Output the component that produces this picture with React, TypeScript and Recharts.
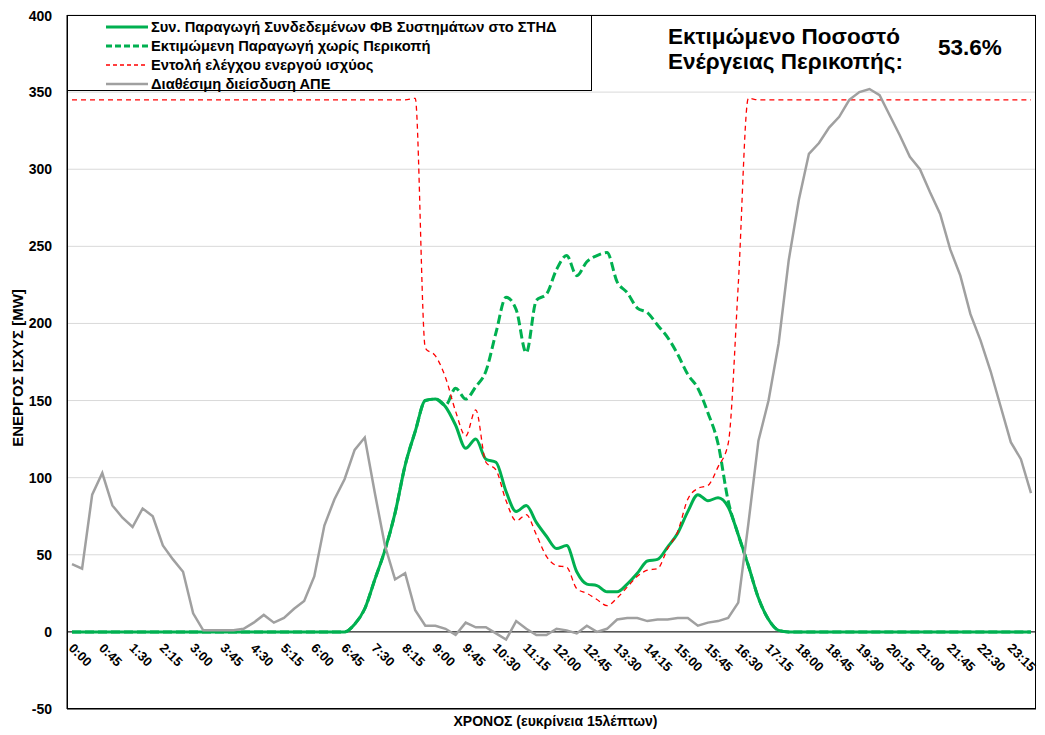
import { LineChart, Line, XAxis, YAxis, CartesianGrid, ReferenceLine, Legend } from "recharts";

// 15-minute slots over one day
const times: string[] = Array.from(
  { length: 96 },
  (_, i) => `${Math.floor(i / 4)}:${String((i % 4) * 15).padStart(2, "0")}`
);

const yTicks = [-50, 0, 50, 100, 150, 200, 250, 300, 350, 400];

// Συν. Παραγωγή Συνδεδεμένων ΦΒ Συστημάτων στο ΣΤΗΔ
const actualPv = [
  0, 0, 0, 0, 0, 0, 0, 0, 0, 0, 0, 0, 0, 0, 0, 0, 0, 0, 0, 0, 0, 0, 0, 0, 0, 0, 0, 0,
  5, 15, 34, 53, 77, 108, 130, 150, 151, 146, 134, 119, 125, 112, 110, 91, 78, 82, 71, 62,
  54, 56, 39, 31, 30, 26, 26, 31, 38, 46, 47, 55, 64, 78, 89, 85, 87, 81, 63, 43, 22, 8, 1,
  0, 0, 0, 0, 0, 0, 0, 0, 0, 0, 0, 0, 0, 0, 0, 0, 0, 0, 0, 0, 0, 0, 0, 0, 0,
];

// Εκτιμώμενη Παραγωγή χωρίς Περικοπή
const estimatedPv = [
  0, 0, 0, 0, 0, 0, 0, 0, 0, 0, 0, 0, 0, 0, 0, 0, 0, 0, 0, 0, 0, 0, 0, 0, 0, 0, 0, 0,
  5, 15, 34, 53, 77, 108, 130, 150, 151,
  147, 158, 151, 159, 169, 194, 217, 209, 181, 215, 219, 235, 244, 231, 240, 244, 246,
  227, 220, 210, 207, 199, 191, 180, 167, 158, 142, 122, 85,
  63, 43, 22, 8, 1,
  0, 0, 0, 0, 0, 0, 0, 0, 0, 0, 0, 0, 0, 0, 0, 0, 0, 0, 0, 0, 0, 0, 0, 0, 0,
];

// Εντολή ελέγχου ενεργού ισχύος
const controlSetpoint = [
  345, 345, 345, 345, 345, 345, 345, 345, 345, 345, 345, 345, 345, 345, 345, 345, 345,
  345, 345, 345, 345, 345, 345, 345, 345, 345, 345, 345, 345, 345, 345, 345, 345, 345,
  346, 184, 179, 165, 143, 127, 144, 110, 105, 85, 72, 76, 63, 49, 43, 42, 28, 25, 21, 17,
  22, 29, 36, 40, 41, 54, 65, 86, 93, 95, 107, 122, 225, 346,
  345, 345, 345, 345, 345, 345, 345, 345, 345, 345, 345, 345, 345, 345, 345, 345, 345,
  345, 345, 345, 345, 345, 345, 345, 345, 345, 345, 345,
];

// Διαθέσιμη διείσδυση ΑΠΕ
const resPenetration = [
  44, 41, 89, 103, 82, 74, 68, 80, 75, 56, 47, 39, 12, 1, 1, 1, 1, 2, 6, 11, 6, 9, 15, 20,
  36, 69, 86, 99, 118, 126, 90, 56, 34, 38, 14, 4, 4, 2, -2, 6, 3, 3, -1, -5, 7, 2, -2, -2,
  2, 1, -1, 4, 0, 2, 8, 9, 9, 7, 8, 8, 9, 9, 4, 6, 7, 9, 19, 70, 124, 150, 187, 241, 280,
  310, 317, 327, 334, 345, 350, 352, 348, 335, 322, 308, 300, 285, 271, 248, 231, 206,
  189, 169, 146, 123, 112, 90,
];

const data = times.map((time, i) => ({
  time,
  actual: actualPv[i],
  estimated: estimatedPv[i],
  setpoint: controlSetpoint[i],
  penetration: resPenetration[i],
}));

const GREEN = "#00b050";
const RED = "#ff0000";
const GREY = "#a0a0a0";
const FONT = "Arial, 'Liberation Sans', sans-serif";

// the root is as wide as the body (window minus 2 x 8px margin)
const WIDTH = 1029;
const HEIGHT = 727;
const TOP = 7;
const RIGHT = 1;
const Y_AXIS_W = 59;
const X_AXIS_H = 26;
const PLOT_W = WIDTH - Y_AXIS_W - RIGHT;
const PLOT_H = HEIGHT - TOP - X_AXIS_H;
const Y_MIN = -50;
const Y_MAX = 400;
// distance from the bottom of the plot up to the 0 line
const ZERO_SHIFT = (PLOT_H * (0 - Y_MIN)) / (Y_MAX - Y_MIN);

const legendItems = [
  { name: "Συν. Παραγωγή Συνδεδεμένων ΦΒ Συστημάτων στο ΣΤΗΔ", color: GREEN, width: 3, dash: undefined },
  { name: "Εκτιμώμενη Παραγωγή χωρίς Περικοπή", color: GREEN, width: 3, dash: "6 3" },
  { name: "Εντολή ελέγχου ενεργού ισχύος", color: RED, width: 1.5, dash: "4 3" },
  { name: "Διαθέσιμη διείσδυση ΑΠΕ", color: GREY, width: 2.5, dash: undefined },
];

function TimeTick({ x, y, payload }: any) {
  const tx = x - 4;
  const ty = y - ZERO_SHIFT + 17;
  return (
    <text
      x={tx}
      y={ty}
      transform={`rotate(45, ${tx}, ${ty})`}
      textAnchor="start"
      fontFamily={FONT}
      fontWeight="bold"
      fontSize={13}
      fill="#000"
    >
      {payload.value}
    </text>
  );
}

function LegendBox() {
  return (
    <div
      style={{
        boxSizing: "border-box",
        width: 525,
        height: 76,
        border: "1px solid #000",
        background: "#fff",
        padding: "1px 0 0 37px",
        fontFamily: FONT,
        fontWeight: "bold",
        fontSize: 14.7,
        color: "#000",
      }}
    >
      {legendItems.map((item) => (
        <div key={item.name} style={{ display: "flex", alignItems: "center", height: 19 }}>
          <svg width={46} height={10} style={{ flex: "none" }}>
            <line
              x1={1}
              y1={5}
              x2={43}
              y2={5}
              stroke={item.color}
              strokeWidth={item.width}
              strokeDasharray={item.dash}
            />
          </svg>
          <span style={{ whiteSpace: "nowrap" }}>{item.name}</span>
        </div>
      ))}
    </div>
  );
}

export default function App() {
  return (
    <div style={{ position: "relative", width: WIDTH, height: HEIGHT, fontFamily: FONT }}>
      <LineChart width={WIDTH} height={HEIGHT} data={data} margin={{ top: TOP, right: RIGHT, left: 0, bottom: 0 }}>
        <CartesianGrid vertical={false} stroke="#d9d9d9" />
        <XAxis
          dataKey="time"
          interval={2}
          height={X_AXIS_H}
          padding={{ left: 5, right: 5 }}
          axisLine={{ stroke: "#000" }}
          tickLine={false}
          tickSize={0}
          tickMargin={0}
          tick={<TimeTick />}
          label={{
            value: "ΧΡΟΝΟΣ (ευκρίνεια 15λέπτων)",
            position: "center",
            dx: 4,
            dy: -1,
            style: { fontFamily: FONT, fontWeight: "bold", fontSize: 14, fill: "#000" },
          }}
        />
        <YAxis
          domain={[Y_MIN, Y_MAX]}
          ticks={yTicks}
          width={Y_AXIS_W}
          axisLine={{ stroke: "#000" }}
          tickLine={false}
          tickSize={0}
          tickMargin={15}
          tick={{ fontFamily: FONT, fontWeight: "bold", fontSize: 14, fill: "#000" }}
          label={{
            value: "ΕΝΕΡΓΟΣ ΙΣΧΥΣ [MW]",
            angle: -90,
            position: "center",
            dx: -20,
            dy: 6,
            style: { fontFamily: FONT, fontWeight: "bold", fontSize: 15, fill: "#000" },
          }}
        />
        <ReferenceLine y={0} stroke="#000" strokeWidth={1} />
        <Legend
          layout="vertical"
          align="center"
          verticalAlign="middle"
          wrapperStyle={{ left: Y_AXIS_W, top: TOP, width: 525, height: 76 }}
          content={() => <LegendBox />}
        />
        <Line
          type="monotone"
          dataKey="actual"
          name={legendItems[0].name}
          stroke={GREEN}
          strokeWidth={3}
          dot={false}
          activeDot={false}
          isAnimationActive={false}
        />
        <Line
          type="monotone"
          dataKey="estimated"
          name={legendItems[1].name}
          stroke={GREEN}
          strokeWidth={3}
          strokeDasharray="9 4"
          dot={false}
          activeDot={false}
          isAnimationActive={false}
        />
        <Line
          type="monotone"
          dataKey="setpoint"
          name={legendItems[2].name}
          stroke={RED}
          strokeWidth={1.3}
          strokeDasharray="5 4"
          dot={false}
          activeDot={false}
          isAnimationActive={false}
        />
        <Line
          type="linear"
          dataKey="penetration"
          name={legendItems[3].name}
          stroke={GREY}
          strokeWidth={2.5}
          dot={false}
          activeDot={false}
          isAnimationActive={false}
        />
      </LineChart>
      {/* plot area frame */}
      <div
        style={{
          position: "absolute",
          left: Y_AXIS_W,
          top: TOP,
          width: PLOT_W,
          height: PLOT_H,
          boxSizing: "border-box",
          border: "1px solid #000",
          pointerEvents: "none",
        }}
      />
      <div
        style={{
          position: "absolute",
          left: 660,
          top: 16,
          fontFamily: FONT,
          fontWeight: "bold",
          fontSize: 22.5,
          lineHeight: "25px",
          color: "#000",
          whiteSpace: "nowrap",
        }}
      >
        <div>Εκτιμώμενο Ποσοστό</div>
        <div>Ενέργειας Περικοπής:</div>
      </div>
      <div
        style={{
          position: "absolute",
          left: 930,
          top: 27,
          fontFamily: FONT,
          fontWeight: "bold",
          fontSize: 22.5,
          lineHeight: "25px",
          color: "#000",
        }}
      >
        53.6%
      </div>
    </div>
  );
}
